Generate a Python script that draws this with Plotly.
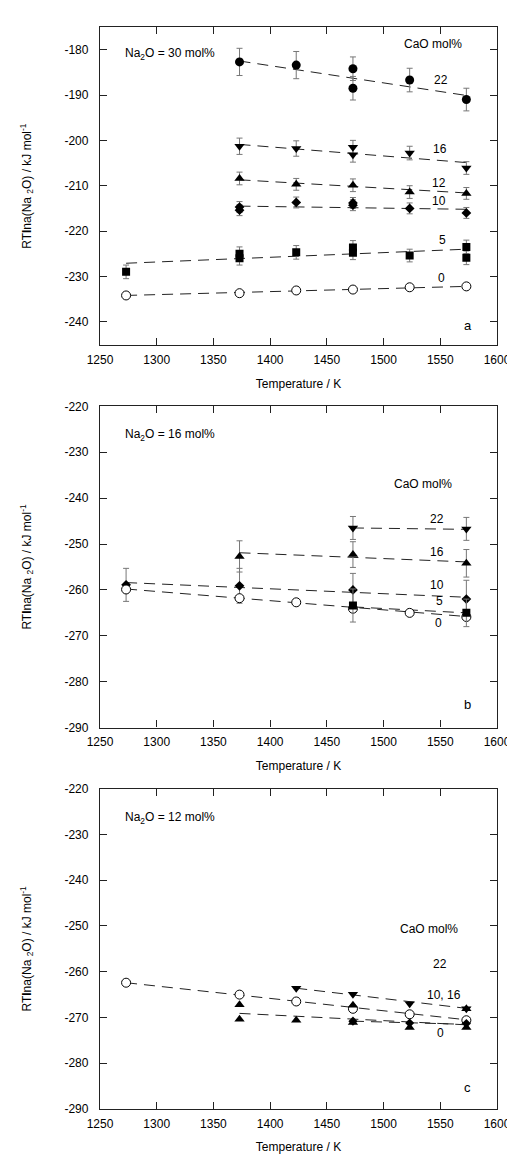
import plotly.graph_objects as go

# ---------------- data ----------------
x_ticks = [1250, 1300, 1350, 1400, 1450, 1500, 1550, 1600]
y_ticks_a = [-240, -230, -220, -210, -200, -190, -180]
y_ticks_bc = [-290, -280, -270, -260, -250, -240, -230, -220]

# Panel a: Na2O = 30 mol%
a22_T = [1373, 1423, 1473, 1473, 1523, 1573]
a22_v = [-182.7, -183.4, -184.2, -188.5, -186.7, -191.0]
a22_e = [3.0, 3.0, 2.6, 2.6, 2.6, 2.5]
a22_fitT = [1373, 1573]
a22_fit = [-182.5, -190.1]

a16_T = [1373, 1423, 1473, 1473, 1523, 1573]
a16_v = [-201.3, -201.8, -201.5, -203.2, -202.8, -206.1]
a16_e = [1.8, 1.7, 1.5, 1.6, 1.5, 1.4]
a16_fitT = [1373, 1573]
a16_fit = [-200.9, -204.9]

a12_T = [1373, 1423, 1473, 1523, 1573]
a12_v = [-208.4, -209.7, -209.9, -211.4, -211.7]
a12_e = [1.4, 1.3, 1.4, 1.4, 1.3]
a12_fitT = [1373, 1573]
a12_fit = [-208.7, -211.6]

a10_T = [1373, 1373, 1423, 1473, 1473, 1523, 1573]
a10_v = [-214.7, -215.4, -213.7, -213.8, -214.3, -215.0, -216.0]
a10_e = [1.2, 1.2, 1.2, 1.2, 1.2, 1.2, 1.2]
a10_fitT = [1373, 1573]
a10_fit = [-214.5, -215.2]

a5_T = [1273, 1373, 1373, 1423, 1473, 1473, 1523, 1573, 1573]
a5_v = [-229.0, -225.0, -226.0, -224.7, -223.6, -224.8, -225.4, -223.5, -225.9]
a5_e = [1.5, 1.5, 1.5, 1.5, 1.5, 1.5, 1.4, 1.5, 1.5]
a5_fitT = [1273, 1573]
a5_fit = [-227.1, -224.0]

a0_T = [1273, 1373, 1423, 1473, 1523, 1573]
a0_v = [-234.2, -233.7, -233.1, -232.9, -232.4, -232.2]
a0_fitT = [1273, 1573]
a0_fit = [-234.2, -232.2]

# Panel b: Na2O = 16 mol%
b22_T = [1473, 1573]
b22_v = [-246.5, -246.7]
b22_e = [2.5, 2.5]
b22_fitT = [1473, 1573]
b22_fit = [-246.5, -246.8]

b16_T = [1373, 1473, 1573]
b16_v = [-252.7, -252.3, -254.2]
b16_e = [3.4, 2.8, 3.0]
b16_fitT = [1373, 1573]
b16_fit = [-251.9, -253.9]

b10_T = [1273, 1373, 1473, 1573]
b10_v = [-258.9, -259.1, -260.0, -262.0]
b10_e = [3.6, 3.8, 3.6, 4.1]
b10_fitT = [1273, 1573]
b10_fit = [-258.4, -261.6]

b5_T = [1473, 1573]
b5_v = [-263.4, -265.0]
b5_e = [3.6, 3.0]
b5_fitT = [1473, 1573]
b5_fit = [-263.7, -265.0]

b0_T = [1273, 1373, 1423, 1473, 1523, 1573]
b0_v = [-259.9, -261.8, -262.7, -264.1, -265.0, -265.9]
b0_fitT = [1273, 1573]
b0_fit = [-259.8, -265.8]

# Panel c: Na2O = 12 mol%
c22_T = [1423, 1473, 1523, 1573]
c22_v = [-263.6, -264.9, -267.0, -268.1]
c22_fitT = [1423, 1573]
c22_fit = [-263.6, -268.0]

c16_T = [1373, 1373, 1423, 1473, 1473, 1523, 1573, 1573]
c16_v = [-267.2, -270.4, -270.6, -267.3, -271.1, -272.2, -268.1, -272.2]
c16_fitT = [1373, 1573]
c16_fit = [-269.1, -271.6]

c10_T = [1473, 1523, 1573]
c10_v = [-270.8, -271.2, -271.3]
c10_fitT = [1473, 1573]
c10_fit = [-270.8, -271.5]

c0_T = [1273, 1373, 1423, 1473, 1523, 1573]
c0_v = [-262.4, -265.0, -266.5, -268.1, -269.3, -270.6]
c0_fitT = [1273, 1573]
c0_fit = [-262.4, -270.5]

# ---------------- figure ----------------
FONT = "Liberation Sans, Arial, Helvetica, sans-serif"
fig = go.Figure()

def add_fit(T, v, ax):
    fig.add_trace(go.Scatter(
        x=T, y=v, mode="lines", xaxis="x" + ax, yaxis="y" + ax,
        line=dict(color="#222222", width=1, dash="11px,7px"),
        showlegend=False, hoverinfo="skip"))

def add_pts(T, v, ax, symbol, size, err=None, open_=False):
    kw = {}
    if err is not None:
        kw["error_y"] = dict(type="data", array=err, visible=True,
                             color="#777777", thickness=1, width=3)
    fig.add_trace(go.Scatter(
        x=T, y=v, mode="markers", xaxis="x" + ax, yaxis="y" + ax,
        marker=dict(symbol=symbol, size=size,
                    color="white" if open_ else "black",
                    line=dict(color="black", width=1 if open_ else 0)),
        showlegend=False, **kw))

# panel a
for T, v in [(a22_fitT, a22_fit), (a16_fitT, a16_fit), (a12_fitT, a12_fit),
             (a10_fitT, a10_fit), (a5_fitT, a5_fit), (a0_fitT, a0_fit)]:
    add_fit(T, v, "")
add_pts(a22_T, a22_v, "", "circle", 9, a22_e)
add_pts(a16_T, a16_v, "", "triangle-down", 9, a16_e)
add_pts(a12_T, a12_v, "", "triangle-up", 9, a12_e)
add_pts(a10_T, a10_v, "", "diamond", 7.5, a10_e)
add_pts(a5_T, a5_v, "", "square", 8, a5_e)
add_pts(a0_T, a0_v, "", "circle", 9, None, open_=True)

# panel b
for T, v in [(b22_fitT, b22_fit), (b16_fitT, b16_fit), (b10_fitT, b10_fit),
             (b5_fitT, b5_fit), (b0_fitT, b0_fit)]:
    add_fit(T, v, "2")
add_pts(b22_T, b22_v, "2", "triangle-down", 9, b22_e)
add_pts(b16_T, b16_v, "2", "triangle-up", 9, b16_e)
add_pts(b10_T, b10_v, "2", "diamond", 7.5, b10_e)
add_pts(b0_T, b0_v, "2", "circle", 9, None, open_=True)
add_pts(b5_T, b5_v, "2", "square", 8, b5_e)

# panel c
for T, v in [(c22_fitT, c22_fit), (c16_fitT, c16_fit), (c10_fitT, c10_fit),
             (c0_fitT, c0_fit)]:
    add_fit(T, v, "3")
add_pts(c0_T, c0_v, "3", "circle", 9, None, open_=True)
add_pts(c22_T, c22_v, "3", "triangle-down", 9)
add_pts(c16_T, c16_v, "3", "triangle-up", 9)
add_pts(c10_T, c10_v, "3", "diamond", 7)

# ---------------- axes ----------------
doms = {"": [0.7058, 1.0], "2": [0.3525, 0.6494], "3": [0.0, 0.296]}
yr = {"": [-245.2, -175.0], "2": [-290, -220], "3": [-290, -220]}
yt = {"": y_ticks_a, "2": y_ticks_bc, "3": y_ticks_bc}

common = dict(showline=True, linecolor="#222222", linewidth=1.3, mirror="ticks",
              ticks="inside", ticklen=7, tickcolor="#222222", tickwidth=1.2,
              showgrid=False, zeroline=False,
              tickfont=dict(family=FONT, size=12, color="black"))

for ax in ["", "2", "3"]:
    fig.update_layout(**{
        "xaxis" + ax: dict(common, range=[1250, 1600], tickvals=x_ticks,
                           ticktext=[str(t) for t in x_ticks],
                           anchor="y" + ax, domain=[0, 1],
                           ticklabelstandoff=3,
                           title=dict(text="Temperature / K", standoff=13,
                                      font=dict(family=FONT, size=12, color="black"))),
        "yaxis" + ax: dict(common, range=yr[ax], tickvals=yt[ax],
                           ticktext=[str(t) for t in yt[ax]],
                           anchor="x" + ax, domain=doms[ax],
                           ticklabelstandoff=8,
                           title=dict(text="RT<b>l</b>na(Na <sub>2</sub>O) / kJ mol<sup>-1</sup>",
                                      standoff=30,
                                      font=dict(family=FONT, size=12, color="black"))),
    })

# ---------------- annotations ----------------
def note(text, x, y, ax, xanchor="center", size=12):
    fig.add_annotation(text=text, x=x, y=y, xref="x" + ax, yref="y" + ax,
                       showarrow=False, xanchor=xanchor, yanchor="middle",
                       font=dict(family=FONT, size=size, color="black"))

note("Na<sub>2</sub>O = 30 mol%", 1270, -180.9, "", xanchor="left")
note("CaO mol%", 1544, -178.7, "")
note("22", 1551, -186.7, "")
note("16", 1550, -202.0, "")
note("12", 1549, -209.3, "")
note("10", 1549, -213.3, "")
note("5", 1552, -222.0, "")
note("0", 1551, -230.4, "")
note("a", 1574, -240.9, "", size=13)

note("Na<sub>2</sub>O = 16 mol%", 1270, -226.3, "2", xanchor="left")
note("CaO mol%", 1535, -237.0, "2")
note("22", 1547, -244.5, "2")
note("16", 1547, -251.8, "2")
note("10", 1547, -258.9, "2")
note("5", 1549, -262.5, "2")
note("0", 1548, -267.3, "2")
note("b", 1574, -285.0, "2", size=13)

note("Na<sub>2</sub>O = 12 mol%", 1270, -226.3, "3", xanchor="left")
note("CaO mol%", 1540, -250.7, "3")
note("22", 1550, -258.4, "3")
note("10, 16", 1553, -265.0, "3")
note("0", 1550, -273.4, "3")
note("c", 1574, -285.3, "3", size=13)

fig.update_layout(
    width=515, height=1156,
    margin=dict(l=92, r=17, t=12, b=46),
    paper_bgcolor="white", plot_bgcolor="white",
    font=dict(family=FONT, size=12, color="black"),
    showlegend=False,
)

fig.write_html("out.html")
